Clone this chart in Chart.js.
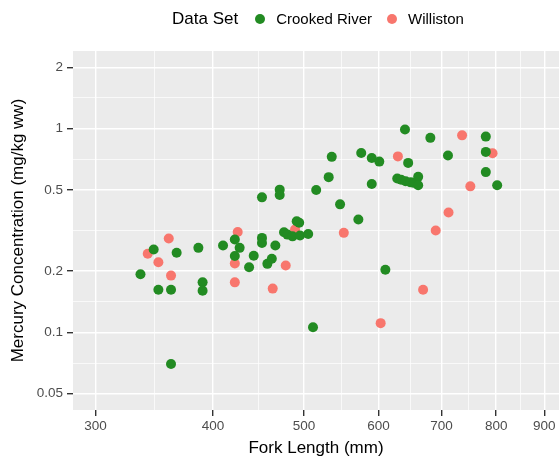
<!DOCTYPE html>
<html>
<head>
<meta charset="utf-8">
<script src="https://cdn.jsdelivr.net/npm/chart.js@4.4.1/dist/chart.umd.min.js"></script>
<style>
  body { margin: 0; background: #fff; overflow: hidden; }
  #caixa { position: relative; width: 559px; height: 459px; }
  #legenda {
    position: absolute; left: 172px; top: 0; height: 37px;
    display: flex; align-items: center;
    font-family: "Liberation Sans", Arial, sans-serif; color: #000;
  }
  #legenda .titulo { font-size: 17px; margin-right: 17px; }
  #legenda .item { font-size: 15px; margin-right: 15px; }
  #legenda .ponto { width: 10px; height: 10px; border-radius: 50%; margin-right: 11px; }
</style>
</head>
<body>
<div id="caixa">
  <canvas id="grafico"></canvas>
  <div id="legenda"></div>
</div>
<script>
// dados
const crookedFL = [335, 346, 366, 350, 361, 386, 390, 390, 361, 410, 422, 427, 422, 437, 442, 451, 451, 466, 457, 462,
  451, 471, 471, 491, 494, 476, 480, 486, 495, 505, 515, 531, 546, 571, 535, 575, 590, 601, 590, 640,
  645, 681, 711, 780, 780, 780, 802, 610, 511, 628, 634, 641, 649, 654, 661, 661];
const crookedHg = [0.193, 0.255, 0.246, 0.162, 0.162, 0.26, 0.176, 0.16, 0.07, 0.267, 0.286, 0.26, 0.237, 0.209, 0.238, 0.291, 0.275, 0.267, 0.217, 0.23,
  0.46, 0.502, 0.472, 0.351, 0.345, 0.31, 0.302, 0.296, 0.299, 0.304, 0.50, 0.578, 0.425, 0.358, 0.727, 0.76, 0.718, 0.689, 0.535, 0.99,
  0.679, 0.901, 0.739, 0.914, 0.769, 0.612, 0.527, 0.203, 0.106, 0.569, 0.561, 0.552, 0.545, 0.542, 0.58, 0.527];
const willistonFL = [341, 350, 359, 361, 425, 422, 422, 463, 478, 489, 551, 603, 629, 669, 690, 712, 736, 751, 793];
const willistonHg = [0.243, 0.221, 0.289, 0.19, 0.311, 0.218, 0.176, 0.164, 0.213, 0.32, 0.308, 0.111, 0.731, 0.162, 0.316, 0.388, 0.927, 0.521, 0.757];

const xTicks = [300, 400, 500, 600, 700, 800, 900];
const yTicks = [0.05, 0.1, 0.2, 0.5, 1, 2];

const series = ["Crooked River", "Williston"];
const cores = ["#228B22", "#F8766D"];

const fonte = '"Liberation Sans", Arial, sans-serif';

// linhas menores no meio (escala log) entre as principais
function comMenores(lista) {
  const out = [];
  lista.forEach((v, i) => {
    out.push({ value: v });
    if (i < lista.length - 1) out.push({ value: Math.sqrt(v * lista[i + 1]) });
  });
  return out;
}

function pontos(xs, ys) {
  return xs.map((x, i) => ({ x: x, y: ys[i] }));
}

// fundo cinza do painel
const fundoPainel = {
  id: 'fundoPainel',
  beforeDraw(chart) {
    const { ctx, chartArea: a } = chart;
    ctx.save();
    ctx.fillStyle = '#EBEBEB';
    ctx.fillRect(a.left, a.top, a.right - a.left, a.bottom - a.top);
    ctx.restore();
  }
};

// legenda em HTML
const leg = document.getElementById('legenda');
leg.innerHTML = '<span class="titulo">Data Set</span>';
series.forEach((s, i) => {
  leg.innerHTML += '<span class="ponto" style="background:' + cores[i] + '"></span><span class="item">' + s + '</span>';
});

const ctx = document.getElementById('grafico');
new Chart(ctx, {
  type: 'scatter',
  data: {
    datasets: [
      { label: series[0], data: pontos(crookedFL, crookedHg), backgroundColor: cores[0], borderWidth: 0, pointRadius: 5, pointHoverRadius: 5 },
      { label: series[1], data: pontos(willistonFL, willistonHg), backgroundColor: cores[1], borderWidth: 0, pointRadius: 5, pointHoverRadius: 5 }
    ]
  },
  options: {
    responsive: true,
    maintainAspectRatio: false,
    animation: false,
    layout: { autoPadding: false, padding: { top: 51, left: 0, right: 0, bottom: 0 } },
    plugins: { legend: { display: false }, tooltip: { enabled: false } },
    scales: {
      x: {
        type: 'logarithmic',
        min: 284, max: 933,
        afterBuildTicks: s => { s.ticks = comMenores(xTicks); },
        afterFit: s => { s.height = 49; s.paddingLeft = 0; s.paddingRight = 0; },
        border: { display: false },
        grid: {
          color: '#FFFFFF',
          lineWidth: c => xTicks.includes(c.tick.value) ? 1.4 : 0.7,
          tickColor: c => xTicks.includes(c.tick.value) ? '#333333' : 'rgba(0,0,0,0)',
          tickLength: 6
        },
        ticks: {
          autoSkip: false, maxRotation: 0, padding: 2,
          color: '#4D4D4D', font: { family: fonte, size: 13.5 },
          callback: v => xTicks.includes(v) ? String(v) : ''
        },
        title: { display: true, text: 'Fork Length (mm)', color: '#000', font: { family: fonte, size: 17 }, padding: { top: 0, bottom: 0 } }
      },
      y: {
        type: 'logarithmic',
        min: 0.0416, max: 2.405,
        afterBuildTicks: s => { s.ticks = comMenores(yTicks); },
        afterFit: s => { s.width = 73; s.paddingTop = 0; s.paddingBottom = 0; },
        border: { display: false },
        grid: {
          color: '#FFFFFF',
          lineWidth: c => yTicks.includes(c.tick.value) ? 1.4 : 0.7,
          tickColor: c => yTicks.includes(c.tick.value) ? '#333333' : 'rgba(0,0,0,0)',
          tickLength: 6
        },
        ticks: {
          autoSkip: false, padding: 4,
          color: '#4D4D4D', font: { family: fonte, size: 13.5 },
          callback: v => yTicks.includes(v) ? String(v) : ''
        },
        title: { display: true, text: 'Mercury Concentration (mg/kg ww)', color: '#000', font: { family: fonte, size: 17 }, padding: { top: 8, bottom: 0 } }
      }
    }
  },
  plugins: [fundoPainel]
});
</script>
</body>
</html>
